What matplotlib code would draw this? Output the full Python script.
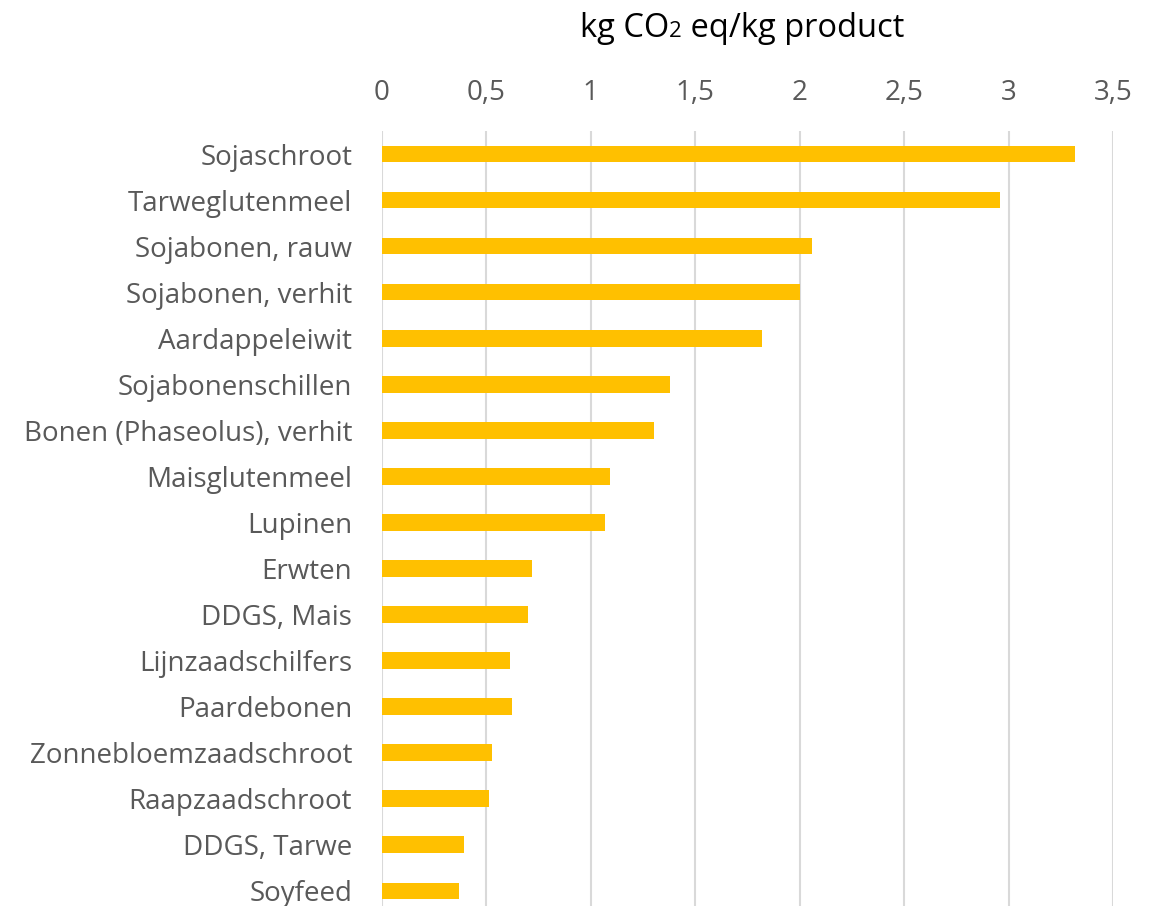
import matplotlib
matplotlib.use("Agg")
import matplotlib.pyplot as plt

categories = ["Sojaschroot", "Tarweglutenmeel", "Sojabonen, rauw", "Sojabonen, verhit",
              "Aardappeleiwit", "Sojabonenschillen", "Bonen (Phaseolus), verhit",
              "Maisglutenmeel", "Lupinen", "Erwten", "DDGS, Mais", "Lijnzaadschilfers",
              "Paardebonen", "Zonnebloemzaadschroot", "Raapzaadschroot", "DDGS, Tarwe", "Soyfeed"]
values = [3.32, 2.96, 2.06, 2.00, 1.82, 1.38, 1.30, 1.09, 1.07, 0.72, 0.70, 0.615,
          0.623, 0.525, 0.513, 0.391, 0.370]
xticks = [0, 0.5, 1, 1.5, 2, 2.5, 3, 3.5]
xticklabels = ["0", "0,5", "1", "1,5", "2", "2,5", "3", "3,5"]

FONT = "Open Sans"
GREY = "#595959"
W, H = 1160, 906
fig = plt.figure(figsize=(W / 100, H / 100), dpi=100)
ax = fig.add_axes([382 / W, 0, (1113 - 382) / W, 1 - 131 / H])

pos = list(range(len(categories)))
ax.barh(pos, values, height=0.36, color="#FFC000", zorder=3)
ax.set_xlim(0, 3.5)
ax.set_ylim(16.33, -0.5)
ax.set_xticks(xticks)
ax.set_xticklabels(xticklabels)
ax.set_yticks(pos)
ax.set_yticklabels(categories)
ax.xaxis.tick_top()
ax.tick_params(axis="x", length=0, pad=17.5, labelsize=20, labelcolor=GREY)
ax.tick_params(axis="y", length=0, pad=21.5, labelsize=20, labelcolor=GREY)
for lab in ax.get_xticklabels() + ax.get_yticklabels():
    lab.set_fontfamily(FONT)
ax.grid(axis="x", color="#D9D9D9", linewidth=1.5, zorder=0)
for s in ax.spines.values():
    s.set_visible(False)

# title with small "2"
fig.canvas.draw()
r = fig.canvas.get_renderer()
parts = [("kg CO", 23.5), ("2", 16), (" eq/kg product", 23.5)]
texts = []
for s, fs in parts:
    t = fig.text(0, 0, s, fontsize=fs, color="black", family=FONT, va="baseline", ha="left")
    texts.append(t)
widths = [t.get_window_extent(r).width for t in texts]
total = sum(widths)
x = 742 - total / 2
base = H - 37
for t, w in zip(texts, widths):
    t.set_position((x / W, base / H))
    x += w

fig.savefig("out.png", dpi=100)
